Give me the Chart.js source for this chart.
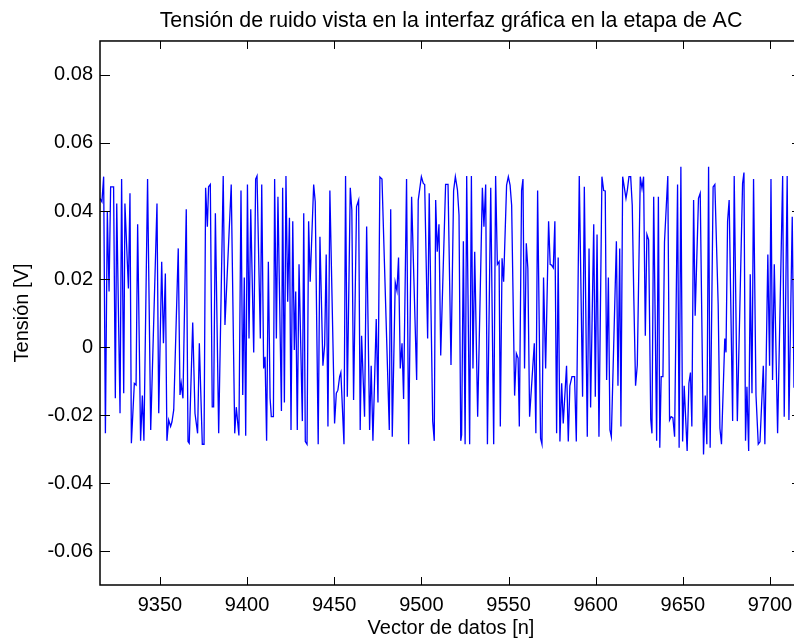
<!DOCTYPE html>
<html>
<head>
<meta charset="utf-8">
<script src="https://cdn.jsdelivr.net/npm/chart.js@4.4.0/dist/chart.umd.min.js"></script>
<style>
  html, body { margin: 0; padding: 0; background: #fff; overflow: hidden; }
  #wrap { width: 794px; height: 642px; overflow: hidden; }
</style>
</head>
<body>
<div id="wrap"><canvas id="myChart" width="810" height="642"></canvas></div>
<script>
// muestra n (eje x) y tension medida en V
var muestras = [
  9315.6, 9316.7, 9317.7, 9318.7, 9319.8, 9320.8, 9321.7, 9323.4, 9324.4, 9325.2,
  9327.1, 9328.0, 9329.2, 9329.9, 9331.9, 9332.8, 9333.6, 9335.3, 9336.3, 9337.2,
  9338.9, 9339.9, 9340.8, 9342.9, 9344.7, 9348.3, 9349.3, 9351.0, 9352.0, 9353.1,
  9354.0, 9355.0, 9356.1, 9356.9, 9357.9, 9360.5, 9361.5, 9362.2, 9363.2, 9365.1,
  9366.1, 9366.8, 9368.8, 9370.1, 9371.6, 9372.6, 9374.3, 9375.3, 9376.2, 9377.2,
  9377.9, 9378.9, 9380.0, 9380.8, 9381.8, 9383.7, 9386.3, 9387.3, 9390.9, 9392.9,
  9393.8, 9395.3, 9396.5, 9397.5, 9398.4, 9399.2, 9400.2, 9401.1, 9402.1, 9403.8,
  9404.9, 9405.7, 9407.6, 9408.4, 9409.5, 9410.3, 9411.2, 9412.2, 9413.2, 9413.9,
  9415.1, 9415.8, 9416.8, 9417.7, 9419.7, 9420.4, 9421.4, 9422.3, 9423.3, 9424.3,
  9425.2, 9426.2, 9427.1, 9427.9, 9428.8, 9429.8, 9431.7, 9432.5, 9433.4, 9434.4,
  9435.3, 9436.2, 9438.2, 9439.1, 9440.8, 9441.8, 9443.5, 9444.5, 9445.4, 9446.4,
  9447.5, 9450.2, 9451.2, 9452.1, 9453.1, 9453.8, 9455.6, 9456.5, 9457.5, 9459.2,
  9460.1, 9461.1, 9462.8, 9464.0, 9464.9, 9465.7, 9467.4, 9468.6, 9470.3, 9471.2,
  9472.2, 9474.1, 9475.1, 9476.2, 9477.4, 9481.6, 9482.4, 9483.3, 9485.0, 9486.0,
  9486.9, 9487.9, 9488.9, 9489.8, 9491.5, 9492.7, 9494.4, 9497.3, 9498.2, 9500.0,
  9501.1, 9501.9, 9503.6, 9504.5, 9506.5, 9507.4, 9508.2, 9509.1, 9510.1, 9511.1,
  9513.9, 9515.3, 9517.0, 9518.5, 9519.5, 9520.7, 9521.6, 9522.6, 9523.1, 9524.1,
  9525.1, 9526.0, 9527.7, 9528.7, 9529.6, 9530.6, 9532.3, 9535.0, 9535.9, 9536.9,
  9537.9, 9539.8, 9541.5, 9542.6, 9543.6, 9544.6, 9545.3, 9546.3, 9547.2, 9548.9,
  9549.9, 9550.9, 9551.8, 9553.5, 9554.5, 9555.5, 9556.2, 9557.5, 9558.3, 9559.2,
  9560.2, 9561.1, 9562.1, 9564.8, 9565.7, 9566.7, 9568.4, 9569.2, 9570.1, 9571.3,
  9573.0, 9573.9, 9574.7, 9575.7, 9576.6, 9577.6, 9578.5, 9579.5, 9580.5, 9581.4,
  9583.3, 9584.3, 9585.2, 9586.4, 9587.9, 9588.9, 9590.6, 9592.5, 9593.5, 9595.2,
  9596.2, 9597.1, 9598.9, 9599.8, 9600.8, 9601.9, 9603.6, 9604.6, 9605.5, 9606.3,
  9607.3, 9608.2, 9609.0, 9611.9, 9612.8, 9613.8, 9614.5, 9615.5, 9617.4, 9618.2,
  9619.1, 9620.1, 9621.0, 9621.9, 9622.9, 9623.9, 9625.6, 9626.6, 9627.5, 9628.5,
  9629.4, 9630.4, 9631.6, 9632.3, 9633.3, 9635.0, 9636.0, 9636.8, 9637.6, 9638.6,
  9639.5, 9641.4, 9642.4, 9643.3, 9644.3, 9645.3, 9647.0, 9647.9, 9648.9, 9649.9,
  9650.8, 9652.5, 9653.5, 9654.4, 9655.2, 9656.2, 9657.1, 9659.0, 9660.0, 9661.9,
  9662.9, 9663.8, 9664.8, 9665.7, 9667.4, 9668.4, 9670.3, 9671.3, 9672.2, 9674.1,
  9674.8, 9675.7, 9676.6, 9678.6, 9679.5, 9681.3, 9684.3, 9685.1, 9686.0, 9686.8,
  9687.8, 9688.7, 9689.7, 9690.6, 9692.0, 9693.3, 9694.3, 9696.2, 9697.1, 9698.8,
  9699.8, 9700.6, 9701.5, 9702.5, 9704.4, 9707.3, 9708.2, 9709.9, 9710.9, 9712.8,
  9713.8
];

var tension = [
  0.0437, 0.0427, 0.0501, -0.0254, 0.0398, 0.0163, 0.0471, 0.0471, -0.0151, 0.0422,
  -0.0195, 0.0494, -0.0136, 0.0422, 0.0172, 0.0452, -0.0283, -0.0107, -0.0112, 0.0361,
  -0.0276, -0.0143, -0.0276, 0.0494, -0.0244, 0.0422, -0.0195, 0.0251, 0.0011, 0.0216,
  -0.0276, -0.0215, -0.0234, -0.0220, -0.0185, 0.0290, -0.0141, -0.0107, -0.0151, 0.0405,
  -0.0278, -0.0283, 0.0072, -0.0195, -0.0254, 0.0011, -0.0286, -0.0286, 0.0468, 0.0354,
  0.0471, 0.0478, -0.0176, -0.0176, 0.0393, -0.0254, 0.0503, 0.0065, 0.0478, -0.0254,
  -0.0177, -0.0260, 0.0460, -0.0141, 0.0204, -0.0261, 0.0478, 0.0025, 0.0405, -0.0016,
  0.0494, 0.0503, 0.0025, 0.0478, -0.0063, -0.0029, -0.0276, 0.0251, -0.0151, -0.0205,
  -0.0205, 0.0494, 0.0025, 0.0442, -0.0188, 0.0468, -0.0163, 0.0503, 0.0133, 0.0380,
  -0.0244, 0.0370, -0.0009, 0.0163, -0.0244, 0.0243, -0.0218, 0.0393, -0.0278, -0.0286,
  0.0370, 0.0192, 0.0478, 0.0427, -0.0286, 0.0324, -0.0055, 0.0006, 0.0272, -0.0234,
  0.0460, -0.0225, -0.0136, -0.0127, -0.0087, -0.0075, -0.0286, 0.0503, -0.0146, 0.0468,
  0.0403, -0.0156, 0.0413, 0.0432, -0.0244, 0.0033, -0.0205, 0.0354, -0.0244, -0.0055,
  -0.0276, 0.0082, -0.0163, 0.0500, 0.0494, -0.0244, 0.0405, -0.0264, 0.0190, 0.0165,
  0.0263, -0.0063, 0.0011, -0.0153, 0.0494, -0.0286, 0.0442, -0.0097, 0.0432, 0.0501,
  0.0481, 0.0478, 0.0025, 0.0452, -0.0218, -0.0276, 0.0432, 0.0280, 0.0361, -0.0025,
  0.0478, 0.0478, -0.0053, 0.0460, 0.0501, 0.0462, 0.0388, -0.0276, -0.0259, 0.0311,
  -0.0286, 0.0503, -0.0286, 0.0503, -0.0063, 0.0280, -0.0205, 0.0468, 0.0354, 0.0478,
  -0.0286, 0.0468, -0.0286, 0.0503, 0.0243, 0.0251, -0.0234, 0.0261, 0.0192, 0.0476,
  0.0501, 0.0476, 0.0417, -0.0143, -0.0019, -0.0033, -0.0234, 0.0460, 0.0494, -0.0063,
  0.0305, 0.0231, -0.0205, 0.0011, -0.0254, 0.0460, -0.0269, -0.0286, 0.0204, -0.0063,
  0.0370, 0.0243, 0.0241, 0.0233, 0.0370, -0.0254, 0.0263, -0.0278, -0.0107, -0.0225,
  -0.0055, -0.0278, -0.0114, -0.0087, -0.0087, -0.0278, 0.0503, -0.0146, 0.0471, -0.0264,
  0.0290, -0.0178, 0.0361, -0.0146, 0.0331, -0.0264, 0.0501, 0.0460, 0.0459, -0.0097,
  0.0204, -0.0244, -0.0264, 0.0311, -0.0114, 0.0290, -0.0234, 0.0501, 0.0437, 0.0462,
  0.0501, 0.0501, 0.0417, 0.0143, -0.0114, -0.0053, 0.0501, 0.0466, 0.0501, 0.0033,
  0.0331, 0.0315, -0.0212, -0.0254, 0.0442, -0.0276, 0.0442, -0.0296, -0.0087, -0.0087,
  0.0309, 0.0503, -0.0215, -0.0205, -0.0208, -0.0264, 0.0478, -0.0296, 0.0530, -0.0278,
  -0.0114, -0.0306, -0.0107, -0.0075, -0.0234, 0.0432, 0.0092, 0.0437, 0.0452, -0.0316,
  -0.0143, -0.0286, 0.0530, -0.0296, 0.0471, 0.0478, 0.0124, -0.0239, -0.0286, 0.0025,
  -0.0016, 0.0370, 0.0432, -0.0218, 0.0503, -0.0218, 0.0481, 0.0513, -0.0276, -0.0117,
  -0.0306, 0.0214, -0.0136, 0.0494, -0.0141, -0.0286, -0.0279, -0.0055, -0.0286, 0.0272,
  -0.0055, 0.0494, -0.0097, 0.0243, -0.0254, 0.0503, -0.0205, 0.0503, -0.0215, 0.0383,
  -0.0120
];

var ticksX = [9350, 9400, 9450, 9500, 9550, 9600, 9650, 9700];
var ticksY = [-0.06, -0.04, -0.02, 0, 0.02, 0.04, 0.06, 0.08];
var limX = [9315.6, 9718.4];
var limY = [-0.07, 0.09];

var fuente = { family: '"Liberation Sans", Arial, Helvetica, sans-serif', size: 20 };

// caja con marcas hacia adentro en los cuatro lados
var cajaEjes = {
    id: 'cajaEjes',
    afterDraw: function(chart) {
        var ctx = chart.ctx, a = chart.chartArea;
        var sx = chart.scales.x, sy = chart.scales.y;
        ctx.save();
        ctx.strokeStyle = '#000';
        ctx.lineWidth = 1;
        ctx.beginPath();
        ticksX.forEach(function(v) {
            var px = Math.round(sx.getPixelForValue(v)) + 0.5;
            ctx.moveTo(px, a.bottom); ctx.lineTo(px, a.bottom - 8);
            ctx.moveTo(px, a.top); ctx.lineTo(px, a.top + 8);
        });
        ticksY.forEach(function(v) {
            var py = Math.round(sy.getPixelForValue(v)) + 0.5;
            ctx.moveTo(a.left, py); ctx.lineTo(a.left + 10, py);
            ctx.moveTo(a.right, py); ctx.lineTo(a.right - 10, py);
        });
        ctx.stroke();
        ctx.lineWidth = 1.5;
        ctx.strokeRect(a.left, a.top, a.right - a.left, a.bottom - a.top);
        ctx.restore();
    }
};

function MakeGraph() {
    var puntos = [];
    for (var i = 0; i < muestras.length; i++) {
        puntos.push({x: muestras[i], y: tension[i]});
    }

    new Chart(document.getElementById('myChart'), {
        type: 'line',
        data: {
            datasets: [{
                data: puntos,
                borderColor: '#0000ff',
                borderWidth: 1.3,
                pointRadius: 0,
                tension: 0
            }]
        },
        options: {
            responsive: false,
            animation: false,
            layout: { padding: { left: 0, right: 8, top: 0, bottom: 0 } },
            plugins: {
                legend: { display: false },
                tooltip: { enabled: false },
                title: {
                    display: true,
                    fullSize: false,
                    text: 'Tensión de ruido vista en la interfaz gráfica en la etapa de AC',
                    color: '#000',
                    font: { family: fuente.family, size: 21.4, weight: 'normal', lineHeight: 1.2 },
                    padding: { top: 8, bottom: 7.3 }
                }
            },
            scales: {
                x: {
                    type: 'linear',
                    min: limX[0],
                    max: limX[1],
                    grid: { display: false, drawTicks: false },
                    border: { display: false },
                    afterFit: function(s) { s.height = 57; },
                    afterBuildTicks: function(s) {
                        s.ticks = ticksX.map(function(v) { return {value: v}; });
                    },
                    ticks: {
                        color: '#000',
                        font: fuente,
                        padding: 8,
                        maxRotation: 0,
                        autoSkip: false,
                        callback: function(v) { return String(v); }
                    },
                    title: {
                        display: true,
                        text: 'Vector de datos [n]',
                        color: '#000',
                        font: fuente,
                        padding: { top: 0, bottom: 2 }
                    }
                },
                y: {
                    min: limY[0],
                    max: limY[1],
                    grid: { display: false, drawTicks: false },
                    border: { display: false },
                    afterFit: function(s) { s.width = 100; },
                    afterBuildTicks: function(s) {
                        s.ticks = ticksY.map(function(v) { return {value: v}; });
                    },
                    ticks: {
                        color: '#000',
                        font: fuente,
                        padding: 7,
                        autoSkip: false,
                        callback: function(v) { return v === 0 ? '0' : v.toFixed(2); }
                    },
                    title: {
                        display: true,
                        text: 'Tensión [V]',
                        color: '#000',
                        font: fuente,
                        padding: { top: 10, bottom: 0 }
                    }
                }
            }
        },
        plugins: [cajaEjes]
    });
}

window.addEventListener('load', function() {
    MakeGraph();
});
</script>
</body>
</html>
